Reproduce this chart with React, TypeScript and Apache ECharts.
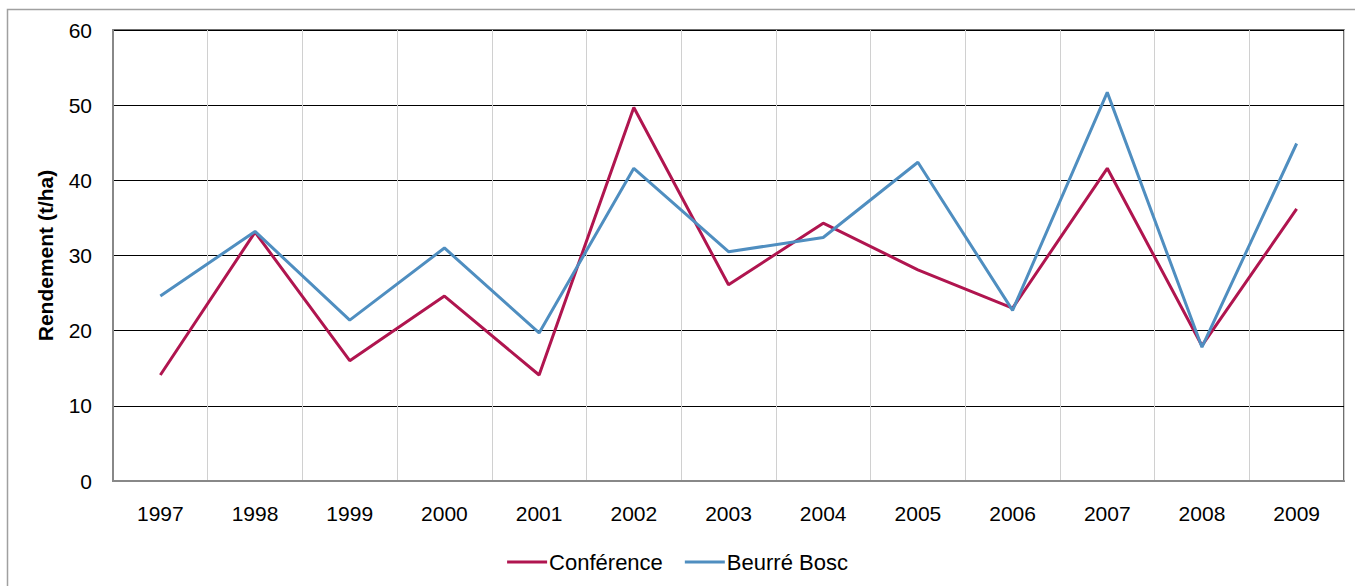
import React, { useEffect, useRef } from "react";
import * as echarts from "echarts";

const years = ["1997", "1998", "1999", "2000", "2001", "2002", "2003", "2004", "2005", "2006", "2007", "2008", "2009"];
const conference = [14.1, 33.1, 16.0, 24.6, 14.1, 49.7, 26.1, 34.3, 28.1, 23.0, 41.6, 18.0, 36.2];
const beurreBosc = [24.6, 33.2, 21.4, 31.0, 19.7, 41.6, 30.5, 32.4, 42.4, 22.7, 51.7, 17.8, 44.9];

export default function App() {
  const ref = useRef<HTMLDivElement>(null);
  useEffect(() => {
    if (!ref.current) return;
    const chart = echarts.init(ref.current, null, { renderer: "svg" });
    const font = "'Liberation Sans', Arial, sans-serif";
    chart.setOption({
      animation: false,
      textStyle: { fontFamily: font },
      graphic: [
        {
          type: "rect",
          shape: { x: 7.5, y: 9.5, width: 1400, height: 640 },
          style: { fill: "none", stroke: "#a0a0a0", lineWidth: 1.5 },
          silent: true,
          z: -10,
        },
      ],
      grid: {
        left: 113,
        right: 11,
        top: 30,
        bottom: 105,
        show: true,
        borderColor: "#404040",
        borderWidth: 1.5,
        backgroundColor: "transparent",
      },
      legend: {
        bottom: 8,
        left: "center",
        itemWidth: 40,
        itemHeight: 3,
        itemGap: 22,
        icon: "rect",
        textStyle: { fontFamily: font, fontSize: 22, color: "#000", padding: [0, 0, 0, -3] },
        data: ["Conférence", "Beurré Bosc"],
      },
      xAxis: {
        type: "category",
        data: years,
        boundaryGap: true,
        axisLine: { show: true, lineStyle: { color: "#888", width: 2 } },
        axisTick: { show: false },
        axisLabel: { color: "#000", fontSize: 21, margin: 22, fontFamily: font },
        splitLine: { show: true, lineStyle: { color: "#d0d0d0", width: 1 } },
      },
      yAxis: {
        type: "value",
        min: 0,
        max: 60,
        interval: 10,
        name: "Rendement (t/ha)",
        nameLocation: "middle",
        nameGap: 57,
        nameTextStyle: { fontFamily: font, fontSize: 21, fontWeight: "bold", color: "#000" },
        axisLine: { show: true, lineStyle: { color: "#888", width: 2 } },
        axisTick: { show: false },
        axisLabel: { color: "#000", fontSize: 21, margin: 21, fontFamily: font },
        splitLine: { show: true, lineStyle: { color: "#000", width: 1 } },
      },
      series: [
        {
          name: "Conférence",
          type: "line",
          data: conference,
          symbol: "none",
          lineStyle: { color: "#B0154F", width: 3 },
          itemStyle: { color: "#B0154F" },
        },
        {
          name: "Beurré Bosc",
          type: "line",
          data: beurreBosc,
          symbol: "none",
          lineStyle: { color: "#4F8EC0", width: 3 },
          itemStyle: { color: "#4F8EC0" },
        },
      ],
    });
    return () => chart.dispose();
  }, []);
  return (
    <div
      ref={ref}
      style={{ position: "absolute", left: 0, top: 0, width: 1355, height: 586, background: "#fff" }}
    />
  );
}
